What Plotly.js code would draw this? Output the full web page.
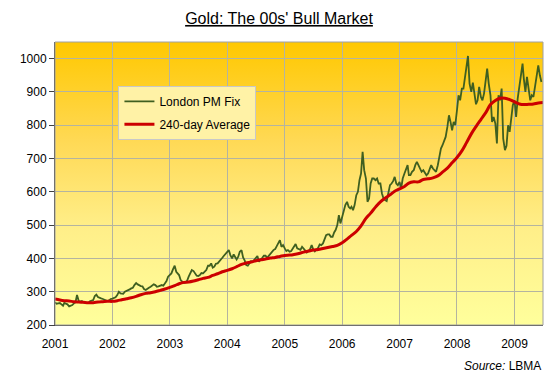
<!DOCTYPE html>
<html>
<head>
<meta charset="utf-8">
<script src="https://cdn.plot.ly/plotly-3.0.1.min.js"></script>
<style>html,body{margin:0;padding:0;background:#fff;}#chart{width:558px;height:383px;}</style>
</head>
<body>
<div id="chart"></div>
<script>
// London PM Fix, three readings per month (1st, 11th, 21st), USD/oz
const fix2001 = [268,264,265, 266,262,258, 266,265,262, 256,258,260, 265,268,290, 272,270,272, 268,267,266, 266,271,274, 275,287,291, 284,283,280, 278,276,274, 272,274,278];
const fix2002 = [279,282,283, 290,300,295, 295,294,300, 302,303,307, 310,312,320, 326,322,319, 317,316,308, 305,310,312, 315,320,322, 320,315,316, 318,320,318, 324,332,345];
const fix2003 = [350,355,367, 378,360,352, 350,335,330, 326,328,333, 345,358,365, 362,355,348, 347,350,356, 355,360,365, 378,378,385, 372,375,384, 385,392,396, 402,408,413];
const fix2004 = [417,425,410, 400,412,403, 397,405,420, 425,403,394, 380,378,385, 392,390,395, 400,407,390, 395,402,408, 408,402,408, 415,420,425, 428,437,445, 455,435,440];
const fix2005 = [430,422,425, 420,422,430, 435,443,430, 428,426,435, 428,424,418, 422,428,440, 427,421,425, 432,442,440, 445,455,470, 472,472,465, 465,478,486, 500,530,505];
const fix2006 = [525,545,560, 570,555,550, 555,545,560, 590,600,635, 655,720,665, 640,570,580, 625,640,640, 635,640,625, 625,595,580, 575,572,595, 620,625,632, 645,625,620];
const fix2007 = [630,610,640, 655,665,680, 650,650,660, 665,680,690, 680,670,660, 665,655,650, 655,665,680, 670,665,660, 680,710,730, 740,750,765, 795,830,810, 785,810,800];
const fix2008 = [845,890,875, 910,910,945, 975,1008,925, 900,928,890, 863,875,915, 885,875,895, 935,970,925, 890,810,825, 805,745,890, 875,910,760, 725,738,800, 780,820,860];
const fix2009 = [875,825,880, 920,940,985, 940,900,945, 905,875,890, 885,915,955, 980,950,930];
const fixDays = [1, 11, 21];

// 240-day moving average, first of each month from Jan 2001 to Jul 2009
const avg240 = [
  278,275,273,272,270,269,268,267,267,269,270,271,
  271,273,276,279,282,286,291,295,297,300,304,308,
  313,318,324,328,329,332,336,340,343,349,354,360,
  364,369,375,382,386,389,393,396,398,401,403,406,
  409,410,412,415,419,422,425,427,430,433,436,439,
  447,458,469,481,498,520,536,554,570,581,591,602,
  609,616,626,630,630,637,639,642,648,659,671,687,
  703,723,747,774,796,817,837,862,874,881,881,877,
  870,864,862,863,864,867,868
];

const yearTicks = ['2001','2002','2003','2004','2005','2006','2007','2008','2009'];

const pad = n => (n < 10 ? '0' : '') + n;
const fixByYear = [fix2001, fix2002, fix2003, fix2004, fix2005, fix2006, fix2007, fix2008, fix2009];
const fixX = [], fixY = [];
fixByYear.forEach((arr, yi) => {
  const yr = 2001 + yi;
  arr.forEach((v, k) => {
    const m = Math.floor(k / 3) + 1;
    const d = fixDays[k % 3];
    fixX.push(yr + '-' + pad(m) + '-' + pad(d));
    fixY.push(v);
  });
});
const avgX = avg240.map((v, i) => {
  const yr = 2001 + Math.floor(i / 12);
  const m = (i % 12) + 1;
  return yr + '-' + pad(m) + '-01';
});

const svg = '<svg xmlns="http://www.w3.org/2000/svg" width="100" height="100" preserveAspectRatio="none">' +
  '<defs><linearGradient id="g" x1="0" y1="0" x2="0" y2="1">' +
  '<stop offset="0" stop-color="#FFC800"/>' +
  '<stop offset="0.35" stop-color="#FFD955"/>' +
  '<stop offset="0.65" stop-color="#FFEE88"/>' +
  '<stop offset="1" stop-color="#FFFF9C"/>' +
  '</linearGradient></defs><rect width="100" height="100" fill="url(#g)"/></svg>';

const traces = [
  {x: fixX, y: fixY, type: 'scatter', mode: 'lines', name: 'London PM Fix',
   legendgroup: 'a', line: {color: '#3F5F20', width: 1.8}},
  {x: avgX, y: avg240, type: 'scatter', mode: 'lines', name: '240-day Average',
   legendgroup: 'b', line: {color: '#CC0000', width: 3, shape: 'spline'}}
];

const font = 'Arial, "Liberation Sans", sans-serif';
const layout = {
  width: 558, height: 383,
  margin: {l: 55, r: 15, t: 42, b: 58},
  paper_bgcolor: '#ffffff',
  plot_bgcolor: 'rgba(0,0,0,0)',
  font: {family: font, size: 12, color: '#000'},
  title: {text: '<u>Gold: The 00s\' Bull Market</u>', x: 0.5, xref: 'container', xanchor: 'center',
          y: 0.952, yref: 'container', yanchor: 'middle', font: {family: font, size: 16, color: '#000'}},
  showlegend: true,
  legend: {x: 0.13, y: 0.845, xanchor: 'left', yanchor: 'top', bgcolor: '#FFF2A6',
           bordercolor: '#C8C8C8', borderwidth: 1, font: {family: font, size: 12, color: '#000'},
           traceorder: 'grouped', tracegroupgap: 4},
  xaxis: {type: 'date', range: ['2001-01-01', '2009-07-01'],
          tickvals: yearTicks.map(y => y + '-01-01'), ticktext: yearTicks,
          showgrid: true, gridcolor: '#B4B4A0', gridwidth: 1,
          showline: true, linecolor: '#404040', linewidth: 1,
          ticks: 'outside', ticklen: 8, tickcolor: 'rgba(0,0,0,0)', zeroline: false,
          tickfont: {family: font, size: 12, color: '#000'}},
  yaxis: {range: [200, 1050], tickvals: [200,300,400,500,600,700,800,900,1000],
          showgrid: true, gridcolor: '#B4B4A0', gridwidth: 1,
          showline: true, linecolor: '#404040', linewidth: 1, ticks: 'outside', ticklen: 5,
          tickcolor: '#404040', zeroline: false,
          tickfont: {family: font, size: 12, color: '#000'}},
  images: [{source: 'data:image/svg+xml;utf8,' + encodeURIComponent(svg), xref: 'paper', yref: 'paper',
            x: 0, y: 1, sizex: 1, sizey: 1, sizing: 'stretch', layer: 'below', xanchor: 'left', yanchor: 'top'}],
  shapes: [{type: 'rect', xref: 'paper', yref: 'paper', x0: 0, x1: 1, y0: 0, y1: 1,
            line: {color: '#A0A0A0', width: 1}, fillcolor: 'rgba(0,0,0,0)', layer: 'above'}],
  annotations: [{text: '<i>Source:</i> LBMA', xref: 'paper', yref: 'paper', x: 1, y: -0.145,
                 xanchor: 'right', yanchor: 'middle', showarrow: false,
                 font: {family: font, size: 12, color: '#000'}}]
};

Plotly.newPlot('chart', traces, layout, {displayModeBar: false, staticPlot: true});
</script>
</body>
</html>
